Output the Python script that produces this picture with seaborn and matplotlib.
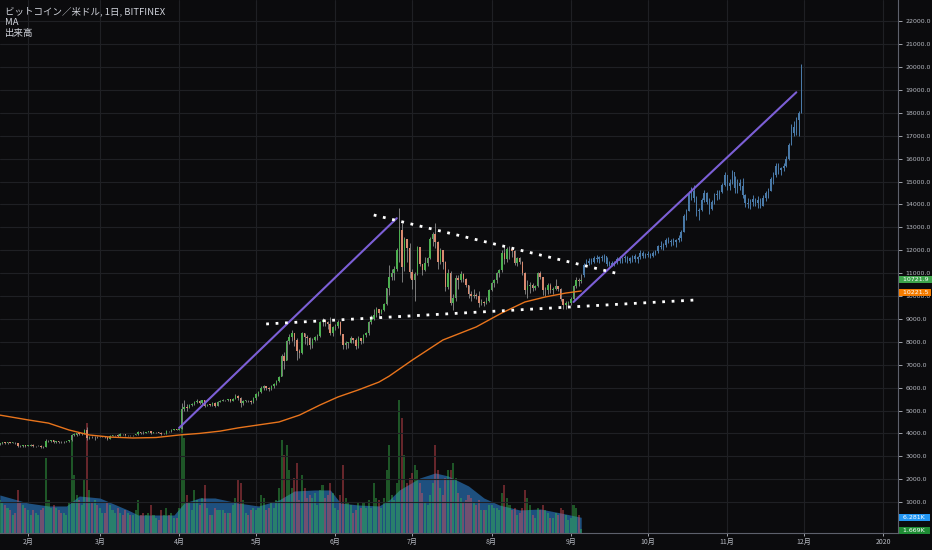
import numpy as np
import pandas as pd
import matplotlib
matplotlib.use("Agg")
import matplotlib.pyplot as plt
import matplotlib.dates as mdates
from matplotlib.transforms import blended_transform_factory
import seaborn as sns

# BTC/USD daily candles (Bitfinex), 2019-01-21 .. 2019-09-05
start_day = "2019-01-21"
first_open = 3540
close = [
    3560, 3610, 3580, 3610, 3590, 3600, 3570, 3460, 3430, 3480, 3450,  # jan
    3470, 3510, 3440, 3440, 3460, 3410, 3400, 3660, 3660, 3700,
    3630, 3650, 3630, 3610, 3630, 3650, 3700, 3930, 3950, 4010,
    3970, 4000, 4160, 3780, 3850, 3830, 3840, 3830,  # feb
    3860, 3870, 3830, 3760, 3900, 3910, 3920, 3900, 3980, 3960,
    3910, 3930, 3910, 3920, 3960, 4040, 4020, 4010, 4060, 4090,
    4020, 4040, 4050, 4030, 3970, 3990, 4110, 4090, 4160, 4170, 4160,  # mar
    4190, 5060, 5150, 5110, 5240, 5270, 5380, 5430, 5330, 5450,
    5210, 5250, 5240, 5330, 5200, 5380, 5420, 5460, 5440, 5490,
    5420, 5520, 5650, 5560, 5310, 5420, 5430, 5410, 5370, 5560,  # apr
    5700, 5800, 6000, 6050, 6000, 5950, 6080, 6150, 6300, 6450,
    7400, 7180, 8030, 8200, 8400, 8100, 7580, 7500, 8400, 8200,
    8150, 7850, 8100, 8200, 8250, 8850, 8950, 8850, 8780, 8400, 8650,  # may
    8700, 8850, 8350, 7850, 7950, 7970, 8150, 8100, 7800, 8150,
    8050, 8300, 8380, 8850, 9000, 9150, 9450, 9250, 9400, 9650,
    10350, 10850, 11000, 11200, 12000, 12900, 11250, 12500, 12100, 11050,  # jun
    10700, 10950, 12150, 11400, 11150, 11450, 11650, 12500, 12700, 12350,
    11500, 12000, 11500, 10400, 11000, 9700, 9900, 10800, 10700, 10950,
    10750, 10500, 10100, 10000, 10050, 10000, 9700, 9750, 9700, 9800, 10250,  # jul
    10550, 10700, 11000, 11150, 11900, 11600, 12050, 12050, 11950, 11450,
    11650, 11500, 11000, 10250, 10450, 10500, 10350, 10450, 11000, 10850,
    10250, 10250, 10500, 10250, 10300, 10450, 10300, 9850, 9600, 9700, 9700,  # aug
    9850, 10450, 10700, 10650, 10721.9,  # sep
]
high = [
    3600, 3640, 3640, 3630, 3630, 3640, 3610, 3580, 3480, 3510, 3500,
    3500, 3530, 3520, 3470, 3480, 3480, 3430, 3750, 3700, 3710,
    3700, 3680, 3680, 3650, 3680, 3680, 3720, 3980, 4010, 4030,
    4020, 4020, 4200, 4260, 3890, 3870, 3870, 3900,
    3900, 3890, 3880, 3850, 3930, 3950, 3950, 3980, 4000, 3990,
    3970, 3950, 3940, 3950, 3990, 4090, 4060, 4100, 4080, 4110,
    4100, 4070, 4070, 4070, 4050, 4010, 4130, 4120, 4190, 4210, 4190,
    4230, 5330, 5450, 5280, 5300, 5330, 5420, 5500, 5440, 5480,
    5460, 5290, 5290, 5360, 5350, 5400, 5460, 5500, 5480, 5520,
    5520, 5560, 5700, 5680, 5580, 5480, 5480, 5460, 5450, 5600,
    5750, 5850, 6080, 6100, 6080, 6030, 6130, 6200, 6350, 6500,
    7480, 7550, 8100, 8350, 8500, 8400, 8150, 7700, 8450, 8400,
    8300, 8200, 8150, 8250, 8350, 8900, 9050, 8950, 8900, 9100, 8700,
    8800, 8950, 8900, 8350, 8050, 8000, 8250, 8150, 8150, 8250,
    8150, 8350, 8450, 8900, 9150, 9450, 9500, 9450, 9450, 9700,
    10350, 11350, 11200, 11300, 12100, 13850, 13200, 12600, 12500, 12300,
    11200, 11050, 12200, 12100, 11400, 11700, 11700, 12600, 12800, 13200,
    12400, 12100, 12000, 11550, 11200, 11100, 10100, 10900, 10900, 11100,
    11000, 10800, 10500, 10200, 10300, 10150, 10200, 9850, 9800, 9950, 10300,
    10600, 10750, 11050, 11200, 12000, 12200, 12150, 12200, 12150, 12000,
    11700, 11700, 11550, 11050, 10700, 10600, 10550, 10500, 11050, 11100,
    10850, 10400, 10550, 10550, 10400, 10750, 10450, 10350, 9700, 9800, 9800,
    9950, 10480, 10850, 10800, 10950,
]
low = [
    3510, 3530, 3540, 3550, 3560, 3570, 3520, 3420, 3390, 3410, 3420,
    3430, 3450, 3420, 3420, 3430, 3380, 3370, 3390, 3620, 3620,
    3600, 3600, 3600, 3580, 3590, 3620, 3640, 3680, 3890, 3900,
    3930, 3940, 3990, 3720, 3750, 3790, 3720, 3790,
    3830, 3830, 3800, 3720, 3740, 3880, 3890, 3860, 3880, 3920,
    3870, 3890, 3880, 3890, 3910, 3950, 3990, 3980, 4000, 4040,
    3980, 4010, 4030, 4010, 3950, 3960, 3980, 4060, 4080, 4130, 4130,
    4130, 4180, 4980, 5000, 5090, 5190, 5240, 5340, 5280, 5300,
    5160, 5180, 5200, 5210, 5170, 5190, 5380, 5400, 5400, 5420,
    5380, 5400, 5500, 5450, 5150, 5230, 5360, 5350, 5300, 5340,
    5450, 5650, 5780, 5900, 5900, 5850, 5900, 6000, 6100, 6250,
    6510, 6800, 7200, 7900, 8050, 7800, 7200, 7300, 7450, 7900,
    7850, 7700, 7750, 8050, 8100, 8200, 8700, 8700, 8550, 8300, 8250,
    8500, 8600, 8300, 7700, 7700, 7750, 7950, 7950, 7700, 7750,
    7900, 7950, 8200, 8300, 8800, 8950, 9100, 9050, 9200, 9350,
    9600, 10050, 10700, 10700, 11100, 11500, 10600, 11100, 11500, 10800,
    10300, 9800, 10900, 11300, 10900, 11100, 11300, 11600, 12200, 12100,
    11200, 11400, 11200, 10200, 10300, 9600, 9400, 9800, 10300, 10600,
    10600, 10400, 9900, 9800, 9900, 9850, 9500, 9600, 9550, 9650, 9750,
    10200, 10400, 10550, 10850, 11050, 11400, 11500, 11600, 11700, 11350,
    11300, 11400, 10900, 10100, 9900, 10150, 10200, 10250, 10400, 10750,
    10050, 10000, 10100, 10150, 10100, 10250, 10200, 9800, 9450, 9450, 9550,
    9600, 9820, 10350, 10450, 10550,
]
# daily volume, thousand BTC
volume = [
    13, 12, 11, 10, 9, 7, 8, 17, 12, 11, 10,
    9, 7, 9, 8, 7, 9, 10, 30, 13, 10, 11, 10, 9, 8, 8, 7, 12, 37, 23, 15,
    13, 11, 21, 44, 17, 12, 13, 11,
    10, 8, 8, 12, 11, 9, 8, 10, 8, 7, 9, 8, 7, 7, 9, 13, 7, 8, 7, 8,
    11, 7, 6, 5, 9, 7, 10, 7, 8, 6, 6,
    10, 43, 38, 15, 12, 9, 17, 13, 11, 14, 19, 10, 7, 7, 10, 9, 9, 9, 8, 8,
    8, 11, 14, 21, 20, 13, 8, 7, 9, 10,
    9, 10, 15, 14, 9, 10, 12, 10, 13, 18, 37, 31, 35, 25, 18, 22, 28, 13, 23, 18,
    14, 15, 14, 16, 11, 17, 19, 14, 15, 20, 16,
    10, 9, 15, 27, 14, 12, 11, 8, 9, 12, 10, 12, 10, 13, 10, 20, 14, 13, 10, 14,
    25, 35, 15, 13, 20, 53, 46, 31, 20, 22,
    24, 27, 25, 20, 16, 12, 11, 15, 20, 35, 25, 18, 15, 22, 25, 25, 28, 22, 16, 14,
    12, 13, 15, 14, 12, 11, 13, 9, 9, 9, 11,
    11, 10, 10, 9, 16, 19, 14, 11, 9, 10, 7, 8, 10, 17, 14, 11, 7, 6, 10, 9,
    11, 9, 8, 6, 6, 8, 7, 10, 9, 7, 5,
    6, 11, 10, 7, 1.669,
]

# projected bars pattern, 2019-09-06 .. 2019-11-30
proj_start = "2019-09-06"
proj_open0 = 10900
proj_close = [
    11350, 11450, 11550, 11500, 11650, 11600, 11700, 11650, 11750, 11400,
    11450, 11350, 11500, 11600, 11550, 11650, 11700, 11550, 11650, 11750,
    11600, 11700, 11900, 11750, 11800, 11850, 11750, 11900, 11950, 12200,
    12150, 12250, 12450, 12350, 12400, 12350, 12450, 12550, 12800, 13500,
    13700, 14500, 14600, 14300, 13700, 13750, 14200, 14500, 14100, 13800,
    14100, 14400, 14450, 14550, 14850, 15300, 14800, 14950, 15400, 14700,
    14950, 14800, 14400, 14050, 14000, 14100, 14250, 14050, 14200, 13950,
    14300, 14500, 14600, 15100, 15300, 15700, 15500, 15600, 15700, 16000,
    16600, 17400, 17100, 17700, 18000, 20100,
]
proj_high = [
    11440, 11600, 11650, 11650, 11750, 11800, 11750, 11800, 11850, 11700,
    11550, 11550, 11550, 11700, 11750, 11700, 11800, 11750, 11700, 11800,
    11850, 11750, 12000, 11950, 11900, 11950, 11900, 11950, 12000, 12250,
    12400, 12300, 12550, 12600, 12500, 12550, 12500, 12650, 12900, 13600,
    13800, 14600, 14750, 14850, 14350, 13850, 14300, 14650, 14550, 14300,
    14200, 14500, 14650, 14650, 14950, 15400, 15250, 15100, 15500, 15250,
    15100, 15100, 15150, 14450, 14300, 14250, 14400, 14300, 14350, 14300,
    14400, 14600, 14700, 15200, 15400, 15800, 15800, 15650, 15800, 16100,
    16700, 17500, 17650, 17800, 18100, 20150,
]
proj_low = [
    10830, 11300, 11350, 11400, 11450, 11500, 11450, 11550, 11500, 11300,
    11300, 11300, 11300, 11400, 11450, 11450, 11500, 11450, 11450, 11500,
    11500, 11450, 11600, 11650, 11650, 11700, 11650, 11700, 11800, 11900,
    12050, 12000, 12150, 12300, 12200, 12250, 12150, 12350, 12400, 12800,
    13300, 13700, 14200, 14100, 13500, 13300, 13700, 14100, 14000, 13600,
    13750, 14000, 14200, 14250, 14500, 14800, 14650, 14650, 14900, 14500,
    14500, 14650, 14300, 13900, 13850, 13800, 13950, 13950, 13850, 13850,
    13950, 14150, 14300, 14600, 14900, 15200, 15350, 15300, 15450, 15650,
    15950, 16600, 17000, 17050, 17000, 18000,
]

# price moving average (orange)
ma_dates = ["2019-01-21", "2019-02-01", "2019-02-09", "2019-02-17", "2019-02-25",
            "2019-03-05", "2019-03-14", "2019-03-23", "2019-04-01", "2019-04-09",
            "2019-04-17", "2019-04-24", "2019-05-02", "2019-05-10", "2019-05-18",
            "2019-05-26", "2019-06-02", "2019-06-10", "2019-06-18", "2019-06-22",
            "2019-07-01", "2019-07-13", "2019-07-26", "2019-08-05", "2019-08-14",
            "2019-08-22", "2019-08-30", "2019-09-05"]
ma_vals = [4800, 4590, 4450, 4150, 3930, 3840, 3800, 3820, 3930, 4000,
           4100, 4240, 4370, 4500, 4800, 5240, 5590, 5900, 6240, 6500,
           7200, 8080, 8650, 9260, 9740, 9960, 10130, 10221.5]

# volume moving average (blue area), thousand BTC
vma_dates = ["2019-01-21", "2019-02-01", "2019-02-09", "2019-02-16", "2019-02-21",
             "2019-03-01", "2019-03-12", "2019-03-16", "2019-03-24", "2019-03-30",
             "2019-04-03", "2019-04-09", "2019-04-15", "2019-04-24", "2019-05-02",
             "2019-05-10", "2019-05-16", "2019-05-24", "2019-05-30", "2019-06-03",
             "2019-06-10", "2019-06-18", "2019-06-22", "2019-06-26", "2019-07-04",
             "2019-07-10", "2019-07-15", "2019-07-19", "2019-07-23", "2019-07-29",
             "2019-08-04", "2019-08-12", "2019-08-20", "2019-08-28", "2019-09-05"]
vma_vals = [15.2, 12, 10.8, 10.8, 14.8, 14, 9.2, 7.2, 7.2, 7.2,
            12, 14, 14, 12, 10.8, 13.2, 16.8, 17.2, 17.2, 12,
            11.2, 10.8, 13.2, 17.2, 22, 24, 22.8, 20.8, 18.8, 14,
            11.2, 9.2, 9.6, 8, 6.281]

# hand-drawn lines: (date, price) endpoints
trend_lines = [(("2019-04-01", 4240), ("2019-06-25", 13400)),
               (("2019-09-02", 9740), ("2019-11-28", 18900))]
dotted_lines = [(("2019-06-16", 13540), ("2019-09-20", 10960)),
                (("2019-05-05", 8780), ("2019-10-20", 9830))]

month_ticks = ["2019-02-01", "2019-03-01", "2019-04-01", "2019-05-01", "2019-06-01",
               "2019-07-01", "2019-08-01", "2019-09-01", "2019-10-01", "2019-11-01",
               "2019-12-01", "2020-01-01"]
month_labels = ["2月", "3月", "4月", "5月", "6月", "7月", "8月", "9月", "10月",
                "11月", "12月", "2020"]

BG = "#0b0b0d"
GRID = "#1f2024"
TXT = "#b8bbc3"
UP = "#4caf50"
DOWN = "#d98a70"
WICK = "#8e8e8e"
PROJ = "#4a7aa8"
ORANGE = "#e8741c"
PURPLE = "#7c5fd6"


def num(d):
    return mdates.date2num(pd.Timestamp(d))


sns.set_theme(style="dark")
plt.rcParams["font.family"] = ["Noto Sans CJK JP", "DejaVu Sans"]

fig = plt.figure(figsize=(9.32, 5.5), dpi=100, facecolor=BG)
# vax: volume pane + shared time axis; ax: price scale on the right
vax = fig.add_axes([0, 17 / 550, 898 / 932, 533 / 550])
ax = vax.twinx()
vax.set_facecolor(BG)
ax.patch.set_visible(False)

# volume pane: blue average area, translucent bars on top
close = np.array(close, dtype=float)
opens = np.r_[first_open, close[:-1]]
days = num(start_day) + np.arange(len(close))
vcol = np.where(close >= opens, "#3cc850", "#f0505a")
vax.fill_between([num(d) for d in vma_dates], 0, vma_vals, color="#1e507f", lw=0, zorder=1)
vax.bar(days, volume, width=0.8, color=vcol, alpha=0.4, lw=0, zorder=2)
vax.set_ylim(0, 213)
vax.set_yticks([])
for s in vax.spines.values():
    s.set_visible(False)

# candles
high = np.array(high, dtype=float)
low = np.array(low, dtype=float)
ccol = np.where(close >= opens, UP, DOWN)
ax.vlines(days, low, high, colors=WICK, lw=0.6, zorder=3)
ax.bar(days, np.maximum(np.abs(close - opens), 25), bottom=np.minimum(close, opens),
       width=0.6, color=ccol, lw=0, zorder=4)

pc = np.array(proj_close, dtype=float)
po = np.r_[proj_open0, pc[:-1]]
pdays = num(proj_start) + np.arange(len(pc))
ax.vlines(pdays, proj_low, proj_high, colors=PROJ, lw=0.7, zorder=3)
ax.bar(pdays, np.maximum(np.abs(pc - po), 25), bottom=np.minimum(pc, po),
       width=0.5, color=PROJ, lw=0, zorder=4)

sns.lineplot(x=[num(d) for d in ma_dates], y=ma_vals, ax=ax, color=ORANGE,
             lw=1.0, estimator=None, sort=False, zorder=5)

for (d1, p1), (d2, p2) in trend_lines:
    ax.plot([num(d1), num(d2)], [p1, p2], color=PURPLE, lw=1.5, zorder=6)
for (d1, p1), (d2, p2) in dotted_lines:
    ax.plot([num(d1), num(d2)], [p1, p2], color="white", lw=2.0,
            linestyle=(0, (1, 2.4)), zorder=6)

vax.set_xlim(num("2019-01-21") + 0.07, num("2020-01-06") + 0.7)
vax.set_xticks([num(d) for d in month_ticks])
vax.set_xticklabels(month_labels)
vax.tick_params(axis="x", colors=TXT, labelsize=5, length=2, pad=1.5, width=0.6,
                bottom=True)
vax.grid(True, axis="x", color=GRID, lw=0.8)

ax.set_ylim(-350, 22930)
ax.set_yticks(np.arange(1000, 22001, 1000))
ax.set_yticklabels([f"{v:.1f}" for v in np.arange(1000, 22001, 1000)],
                   family="DejaVu Sans")
ax.tick_params(axis="y", colors=TXT, labelsize=4.5, length=3, pad=2.5, width=0.6)
ax.grid(True, axis="y", color=GRID, lw=0.8)
for s in ["top", "left"]:
    ax.spines[s].set_visible(False)
for s in ["right", "bottom"]:
    ax.spines[s].set_color("#5d606b")
    ax.spines[s].set_linewidth(0.8)

# last value labels
tr = blended_transform_factory(ax.transAxes, ax.transData)
box = dict(boxstyle="square,pad=0.2", ec="none")
lab = dict(fontsize=4.5, color="white", va="center", ha="left", family="DejaVu Sans")
ax.text(1.003, close[-1], " 10721.9 ", transform=tr, bbox={**box, "fc": "#3ea54c"}, **lab)
ax.text(1.003, ma_vals[-1] - 60, " 10221.5 ", transform=tr, bbox={**box, "fc": "#f57c00"}, **lab)
vtr = blended_transform_factory(vax.transAxes, vax.transData)
vax.text(1.003, vma_vals[-1], " 6.281K  ", transform=vtr, bbox={**box, "fc": "#2196f3"}, **lab)
vax.text(1.003, volume[-1] - 0.6, " 1.669K  ", transform=vtr, bbox={**box, "fc": "#1e8c34"}, **lab)

fig.text(5 / 932, 1 - 11 / 550, "ビットコイン／米ドル, 1日, BITFINEX", fontsize=6.8,
         color="#d1d4dc", va="center")
fig.text(5 / 932, 1 - 22.5 / 550, "MA", fontsize=6.8, color="#d1d4dc", va="center")
fig.text(5 / 932, 1 - 33.5 / 550, "出来高", fontsize=6.8, color="#d1d4dc", va="center")

fig.savefig("out.png", dpi=100, facecolor=BG)
